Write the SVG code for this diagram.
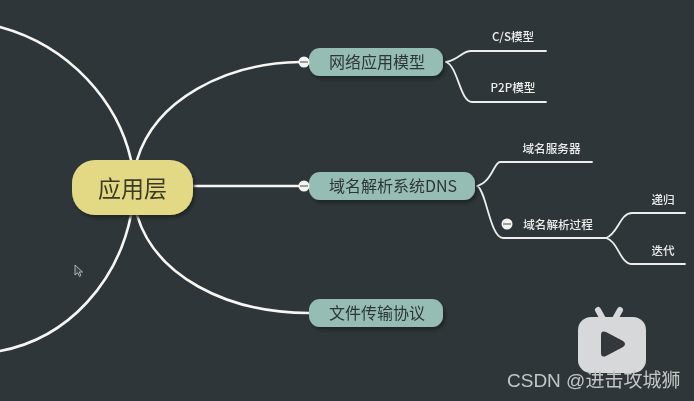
<svg xmlns="http://www.w3.org/2000/svg" width="694" height="401" viewBox="0 0 694 401">
  <defs>
    <filter id="soft" x="-5%" y="-5%" width="110%" height="110%"><feGaussianBlur stdDeviation="0.5"/></filter>
    <filter id="sh" x="-10%" y="-20%" width="125%" height="150%"><feDropShadow dx="2" dy="3" stdDeviation="1.5" flood-color="#1c2124" flood-opacity="0.8"/></filter>
  </defs>
  <style>
    text { font-family: "Noto Sans CJK SC", "Noto Sans", sans-serif; }
    .main { fill: none; stroke: #f6f6f4; stroke-width: 2.6; stroke-linecap: round; }
    .sub { fill: none; stroke: #ecedec; stroke-width: 1.8; stroke-linecap: round; }
    .topic { fill: #96bdb3; filter: url(#sh); }
    .tt { font-size: 16px; fill: #2e3638; text-anchor: middle; }
    .lt { font-size: 11.600px; fill: #ececec; text-anchor: middle; font-weight: 500; }
    .fold { fill: #f4f4f2; }
    .dash { stroke: #5f6664; stroke-width: 1.2; }
  </style>
  <rect width="694" height="401" fill="#2f3639"/>
  <g filter="url(#soft)">
    <g id="connectors">
      <path class="main" d="M0 27C70 46 118 102 131 160"/>
      <path class="main" d="M137 160C155 100 225 63 300 62"/>
      <path class="main" d="M193 186H300"/>
      <path class="main" d="M131 215C118 280 70 338 0 351"/>
      <path class="main" d="M137 215C155 275 225 313 309 313"/>
      <path class="sub" d="M446 62C460 59 462 51 471 51H546"/>
      <path class="sub" d="M446 62C458 66 460 102 472 102H546"/>
      <path class="sub" d="M477 186C492 182 494 162 500 162Q503 162 510 162H592"/>
      <path class="sub" d="M477 186C486 189 490 238 503 238H606"/>
      <path class="sub" d="M606 238C618 234 620 213 632 213H685"/>
      <path class="sub" d="M606 238C618 241 620 264 632 264H685"/>
    </g>
    <g id="root">
      <rect x="72" y="160" width="121" height="55" rx="23" fill="#e3d985" filter="url(#sh)"/>
      <text x="132.500" y="197" font-size="23px" fill="#3b3a26" text-anchor="middle">应用层</text>
    </g>
    <g id="node-network">
      <rect class="topic" x="309" y="48" width="134" height="28" rx="11"/>
      <text class="tt" x="377" y="67.500">网络应用模型</text>
      <circle class="fold" cx="304" cy="62" r="5.500"/><path class="dash" d="M300 62H308"/>
    </g>
    <g id="node-dns">
      <rect class="topic" x="309" y="172" width="166" height="28" rx="11"/>
      <text class="tt" x="393" y="191.500">域名解析系统DNS</text>
      <circle class="fold" cx="304" cy="186" r="5.500"/><path class="dash" d="M300 186H308"/>
    </g>
    <g id="node-file">
      <rect class="topic" x="309" y="299" width="134" height="28" rx="11"/>
      <text class="tt" x="377" y="318.500">文件传输协议</text>
    </g>
    <g id="leaf-cs"><text class="lt" x="513" y="40.500">C/S模型</text></g>
    <g id="leaf-p2p"><text class="lt" x="513" y="91.500">P2P模型</text></g>
    <g id="leaf-server"><text class="lt" x="551.500" y="152.500">域名服务器</text></g>
    <g id="leaf-process">
      <text class="lt" x="558" y="229">域名解析过程</text>
      <circle class="fold" cx="507" cy="224" r="5.500"/><path class="dash" d="M503 224H511"/>
    </g>
    <g id="leaf-recursive"><text class="lt" x="663" y="204">递归</text></g>
    <g id="leaf-iterative"><text class="lt" x="663" y="255">迭代</text></g>
    <path d="M75 265V275L77.500 272.800L79.500 276.500L81 275.500L79.200 272H82.500Z" fill="#41474a" stroke="#c9cbcb" stroke-width="0.8"/>
    <path d="M598 310L603 319M620 310L615 319" stroke="#d6d8d9" stroke-width="6" stroke-linecap="round"/>
    <rect x="578" y="317" width="68" height="56" rx="13" fill="#d6d8d9"/>
    <path d="M601 335Q601 330 606 332L623 341Q627 344 623 347L606 356Q601 358 601 353Z" fill="#31373b"/>
    <text x="507" y="387" font-size="19px" fill="#c3c6c6" style="font-family:'Liberation Sans','Noto Sans CJK SC',sans-serif">CSDN @进击攻城狮</text>
  </g>
</svg>
